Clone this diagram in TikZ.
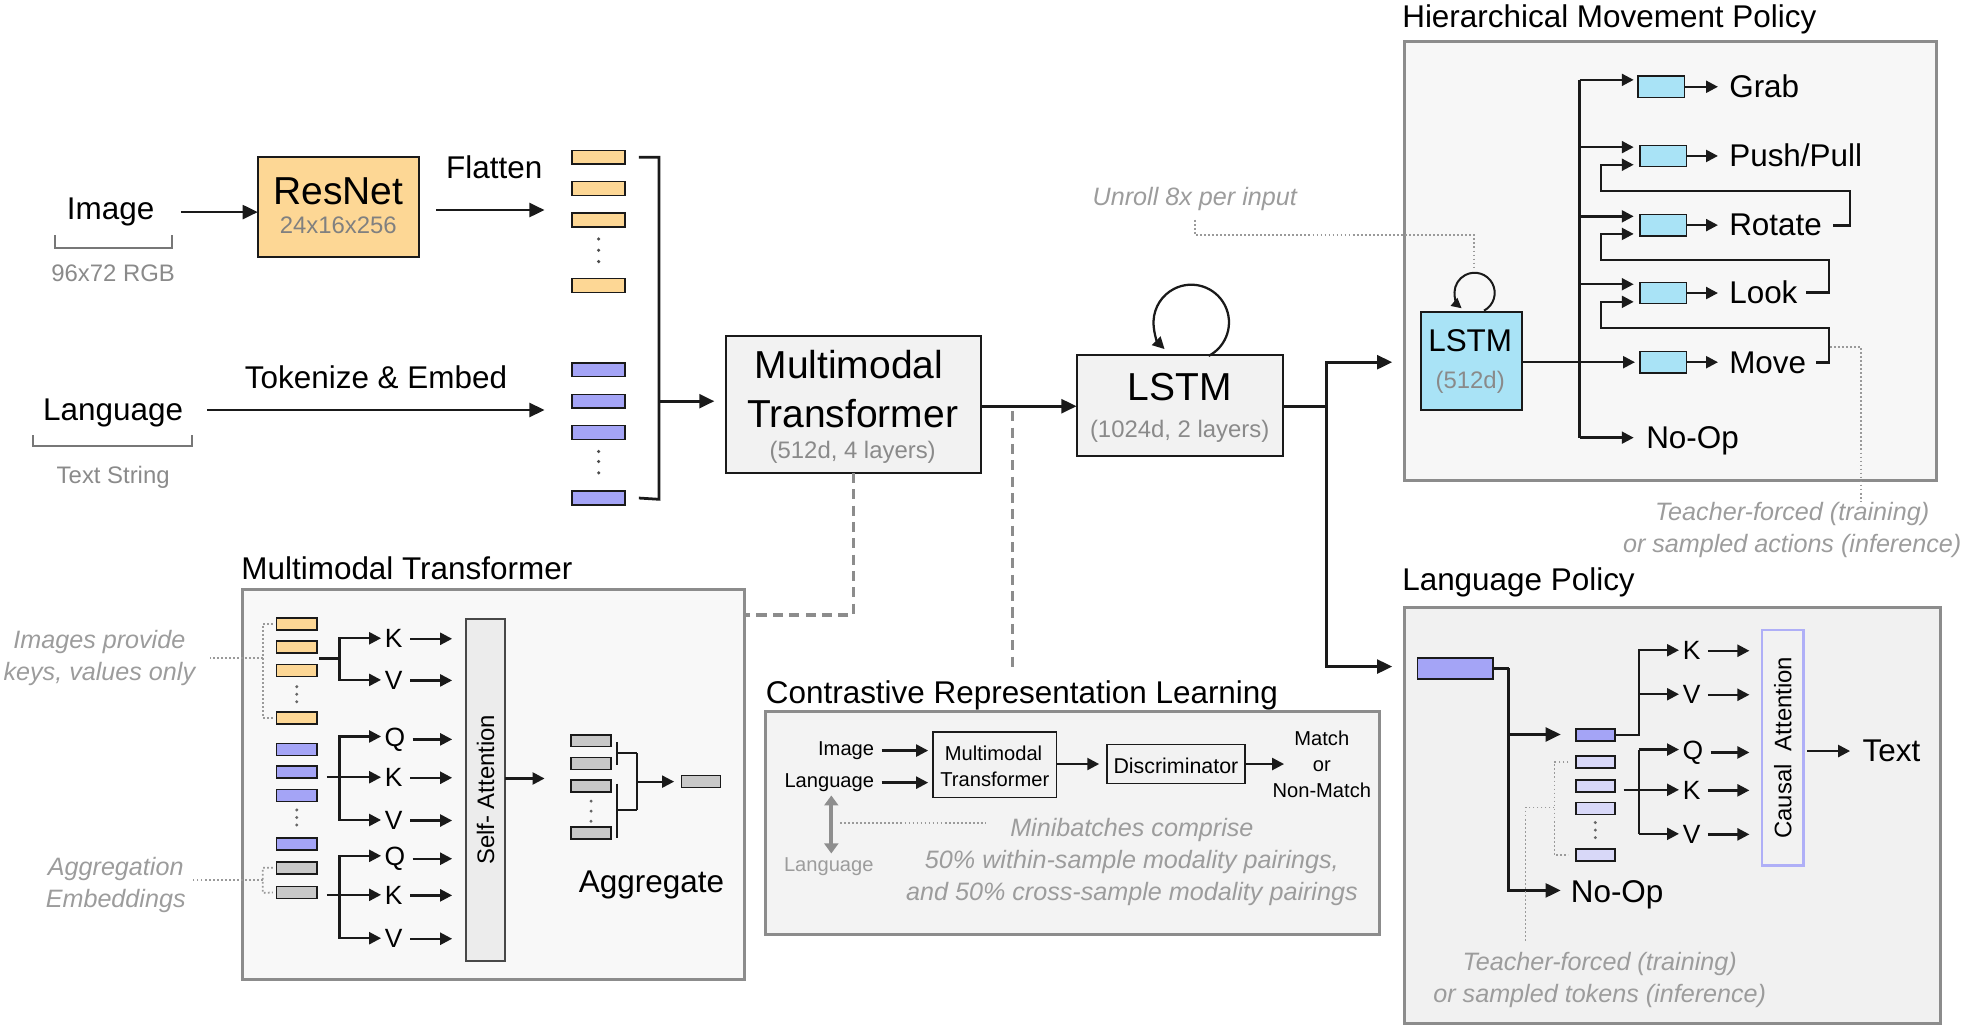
\documentclass[tikz,border=0pt]{standalone}
\usepackage{fontspec}
\setmainfont{Liberation Sans}
\usetikzlibrary{arrows.meta}
\definecolor{orangeF}{HTML}{FDD795}
\definecolor{purpleF}{HTML}{A4A4F6}
\definecolor{lpurpleF}{HTML}{D8D8F8}
\definecolor{cyanF}{HTML}{A9E3F6}
\definecolor{greyF}{HTML}{C8C8C8}
\definecolor{boxF}{HTML}{F2F2F2}
\definecolor{hmpF}{HTML}{F7F7F7}
\definecolor{mmdF}{HTML}{F8F8F8}
\definecolor{crlF}{HTML}{F3F3F3}
\definecolor{lpF}{HTML}{F1F1F1}
\definecolor{panelD}{HTML}{8C8C8C}
\definecolor{subT}{HTML}{8A8A8A}
\definecolor{noteT}{HTML}{9C9C9C}
\definecolor{sattF}{HTML}{ECECEC}
\definecolor{causalD}{HTML}{AFAFF7}
\definecolor{lineD}{HTML}{1A1A1A}
\definecolor{dotC}{HTML}{9A9A9A}
\definecolor{dashC}{HTML}{8C8C8C}
\definecolor{brkC}{HTML}{777777}
\definecolor{dblC}{HTML}{8E8E8E}
\begin{document}
\begin{tikzpicture}[x=1pt,y=-1pt,
  every node/.style={inner sep=0pt,outer sep=0pt},
  lbl/.style={font=\fontsize{25}{30}\selectfont,yshift=-6pt},
  head/.style={font=\fontsize{31}{36}\selectfont,yshift=-8pt},
  sub/.style={font=\fontsize{19}{23}\selectfont,text=subT,yshift=-5pt},
  note/.style={font=\fontsize{20}{25.5}\selectfont\itshape,text=noteT,align=center,yshift=-2.5pt},
  small/.style={font=\fontsize{16}{20.5}\selectfont,yshift=-4pt},
  qkv/.style={font=\fontsize{21}{25}\selectfont,yshift=-5pt},
  panel/.style={draw=panelD,line width=2.5pt},
  blk/.style={draw=lineD,line width=1.5pt,fill=boxF},
  barbase/.style={draw=lineD,line width=1.2pt},
  obar/.style={barbase,fill=orangeF,minimum width=42pt,minimum height=11pt},
  pbar/.style={barbase,fill=purpleF,minimum width=42pt,minimum height=11pt},
  dbar/.style={barbase,minimum width=32pt,minimum height=9.5pt},
  cbar/.style={barbase,fill=cyanF,minimum width=37pt,minimum height=17pt},
  arr/.style={draw=lineD,line width=2.2pt,-{Triangle[length=12pt,width=11pt]}},
  sarr/.style={draw=lineD,line width=1.9pt,-{Triangle[length=9.5pt,width=9.5pt]}},
  ln/.style={draw=lineD,line width=2.2pt},
  tln/.style={draw=lineD,line width=1.5pt},
  dotline/.style={draw=dotC,line width=1.4pt,dash pattern=on 1.4pt off 1.8pt},
  dashline/.style={draw=dashC,line width=2.5pt,dash pattern=on 8pt off 5pt},
  brk/.style={draw=brkC,line width=1.6pt},
]
\useasboundingbox (0,0) rectangle (1568,816);

% ================= panels =================
\node[panel,fill=hmpF,minimum width=423pt,minimum height=349pt] (hmp) at (1328.5,207.5) {};
\node[lbl,anchor=mid west] (hmpT) at (1115,13) {Hierarchical Movement Policy};
\node[panel,fill=lpF,minimum width=426pt,minimum height=331pt] (lp) at (1330,648.5) {};
\node[lbl,anchor=mid west] (lpT) at (1115,461) {Language Policy};
\node[panel,fill=mmdF,minimum width=399pt,minimum height=310pt] (mmd) at (392.5,624) {};
\node[lbl,anchor=mid west] (mmdT) at (192,452) {Multimodal Transformer};
\node[panel,fill=crlF,minimum width=488pt,minimum height=177pt] (crl) at (853,654.5) {};
\node[lbl,anchor=mid west] (crlT) at (609,551) {Contrastive Representation Learning};

% ================= top-left inputs =================
\node[lbl,anchor=mid] (image) at (88,166) {Image};
\draw[brk] (44,187) -- (44,197) -- (137,197) -- (137,187);
\node[sub,anchor=mid] (imgres) at (90,216) {96x72 RGB};
\node[draw=lineD,line width=1.5pt,fill=orangeF,minimum width=128pt,minimum height=79pt] (resnet) at (269,164.5) {};
\node[head,anchor=mid] (resnetT) at (269,152) {ResNet};
\node[sub,anchor=mid,text=black!50] (resnetS) at (269,178) {24x16x256};
\draw[arr] ([xshift=21pt]image.east) -- (resnet.west |- image.east);
\node[lbl,anchor=mid] (flatten) at (393,133) {Flatten};
\coordinate (flatE) at (433,167);
\draw[arr] ([xshift=14pt]resnet.east |- flatE) -- (flatE);

\node[obar] (ob1) at (476,125) {};
\node[obar] (ob2) at (476,150) {};
\node[obar] (ob3) at (476,175) {};
\node[obar] (ob4) at (476,227) {};
\foreach \yy in {190,199,208} \fill[black!70] (476,\yy) circle (1.4);
\node[pbar] (pb1) at (476,294) {};
\node[pbar] (pb2) at (476,319) {};
\node[pbar] (pb3) at (476,344) {};
\node[pbar] (pb4) at (476,396) {};
\foreach \yy in {359,367,376} \fill[black!70] (476,\yy) circle (1.4);

\node[lbl,anchor=mid] (lang) at (90,326) {Language};
\draw[brk] (26,346) -- (26,355) -- (153,355) -- (153,346);
\node[sub,anchor=mid] (langres) at (90,377) {Text String};
\node[lbl,anchor=mid] (tok) at (299,300) {Tokenize \& Embed};
\coordinate (tokE) at (433,326);
\draw[arr] ([xshift=19pt]lang.east |- tokE) -- (tokE);

% ================= multimodal transformer / LSTM =================
\node[blk,minimum width=203pt,minimum height=109pt] (mm) at (678.5,321.5) {};
\node[head,anchor=mid] (mmT1) at (675,290) {Multimodal};
\node[head,anchor=mid] (mmT2) at (678,329) {Transformer};
\node[sub,anchor=mid] (mmS) at (678,357) {(512d, 4 layers)};

\coordinate (brM) at (524,319);
\draw[ln] ([xshift=11pt]ob1.east) -- (524,125) -- (524,397) -- ([xshift=11pt]pb4.east);
\draw[arr] (brM) -- ([xshift=-9pt]mm.west |- brM);

\node[blk,minimum width=164pt,minimum height=80pt] (lstm) at (938,322.5) {};
\node[head,anchor=mid] (lstmT) at (938,308) {LSTM};
\node[sub,anchor=mid] (lstmS) at (938,340) {(1024d, 2 layers)};
\draw[arr] (mm.east |- 0,323) -- (lstm.west |- 0,323);
\coordinate (lloopS) at (961,283);
\draw[sarr,line width=1.8pt] (lloopS) arc[start angle=62.6,end angle=-225,radius=30];

\coordinate (split) at (1055,323);
\coordinate (hmpIn) at (1107,288);
\coordinate (lpIn) at (1107,530);
\draw[ln] (lstm.east |- split) -- (split);
\draw[arr] (split) |- (hmpIn);
\draw[arr] (split) |- (lpIn);

% dashed links to detail panels
\coordinate (dashC) at (678.5,489);
\draw[dashline] (mm.south) -- (dashC) -- (mmd.east |- dashC);
\coordinate (d2S) at (805,327);
\coordinate (d2E) at (805,532);
\draw[dashline] (d2S) -- (d2E);

% ================= hierarchical movement policy =================
\node[draw=lineD,line width=1.5pt,fill=cyanF,minimum width=80pt,minimum height=78pt] (slstm) at (1170,287) {};
\node[lbl,anchor=mid] (slstmT) at (1169,271) {LSTM};
\node[sub,anchor=mid] (slstmS) at (1169,301) {(512d)};
\coordinate (sloopS) at (1180,247);
\draw[sarr,line width=1.6pt,-{Triangle[length=8pt,width=8pt]}] (sloopS) arc[start angle=62,end angle=-230,radius=16];
\coordinate (sloopTop) at (1172,213);

\node[note,anchor=mid,yshift=-2.5pt] (unroll) at (950,156) {Unroll 8x per input};
\draw[dotline] ([yshift=-7pt]unroll.south) -- ++(0,12) -| (sloopTop);

\node[cbar] (gb) at (1321,69) {};
\node[cbar] (pp) at (1322.5,124) {};
\node[cbar] (rot) at (1322.5,179) {};
\node[cbar] (look) at (1322.5,233) {};
\node[cbar] (mv) at (1322.5,288) {};
\node[lbl,anchor=mid west] (grabT) at (1375,69) {Grab};
\node[lbl,anchor=mid west] (ppT) at (1375,124) {Push/Pull};
\node[lbl,anchor=mid west] (rotT) at (1375,179) {Rotate};
\node[lbl,anchor=mid west] (lookT) at (1375,233) {Look};
\node[lbl,anchor=mid west] (mvT) at (1375,288) {Move};
\node[lbl,anchor=mid west] (noopT) at (1309,348) {No-Op};
\foreach \b/\t in {gb/grabT,pp/ppT,rot/rotT,look/lookT,mv/mvT}
  \draw[sarr] (\b.east) -- ([xshift=-9pt]\t.west |- \b.east);

\coordinate (trk) at (1256,63.5);
\coordinate (trkB) at (1256,348);
\coordinate (gbIn) at (1299,63.5);
\coordinate (ppIn1) at (1299,117);
\coordinate (ppIn2) at (1299,131);
\coordinate (rotIn1) at (1299,172);
\coordinate (rotIn2) at (1299,186);
\coordinate (lookIn1) at (1299,226);
\coordinate (lookIn2) at (1299,240);
\coordinate (noopIn) at (1299,348);
\draw[ln] (trk) -- (trkB);
\draw[sarr] (trk) -- (gbIn);
\draw[sarr] (trk |- ppIn1) -- (ppIn1);
\draw[sarr] (trk |- rotIn1) -- (rotIn1);
\draw[sarr] (trk |- lookIn1) -- (lookIn1);
\draw[sarr] (trkB) -- (noopIn);
\draw[sarr] (slstm.east |- mv.west) -- ([xshift=-4pt]mv.west);

\coordinate (fbA) at (1471,152);
\coordinate (fbB) at (1273,152);
\coordinate (fbC) at (1454.5,206.6);
\coordinate (fbD) at (1273,206.6);
\coordinate (fbE) at (1454.5,261);
\coordinate (fbF) at (1273,261);
\draw[sarr] ([xshift=9pt]rotT.east) -| (fbA) -- (fbB) |- (ppIn2);
\draw[sarr] ([xshift=7pt]lookT.east) -| (fbC) -- (fbD) |- (rotIn2);
\draw[sarr] ([xshift=8pt]mvT.east) -| (fbE) -- (fbF) |- (lookIn2);

\node[note] (tfnote) at (1425,419) {Teacher-forced (training)\\or sampled actions (inference)};
\coordinate (tfA) at (1455,276);
\draw[dotline] (tfA) -| ([xshift=55pt]tfnote.north);

% ================= language policy =================
\node[barbase,fill=purpleF,minimum width=60pt,minimum height=17pt] (lpbar) at (1157,531.5) {};
\coordinate (lpV) at (1199.5,531.5);
\coordinate (tokIn) at (1241,584);
\coordinate (noop2In) at (1241,708);
\draw[ln] (lpbar.east) -- (lpV);
\draw[arr] (lpV) |- (noop2In);
\draw[arr] (lpV |- tokIn) -- (tokIn);
\node[lbl,anchor=mid west] (noop2T) at (1249,709) {No-Op};

\node[dbar,fill=purpleF,minimum width=31pt] (tb0) at (1268.5,584.5) {};
\node[dbar,fill=lpurpleF,minimum width=31pt] (tb1) at (1268.5,606) {};
\node[dbar,fill=lpurpleF,minimum width=31pt] (tb2) at (1268.5,625) {};
\node[dbar,fill=lpurpleF,minimum width=31pt] (tb3) at (1268.5,643) {};
\node[dbar,fill=lpurpleF,minimum width=31pt] (tb4) at (1268.5,680) {};
\foreach \yy in {654,660,666} \fill[black!60] (1268.5,\yy) circle (1.3);

\node[draw=causalD,line width=2pt,fill=boxF,minimum width=33pt,minimum height=187pt] (causal) at (1417.5,594.5) {};
\node[font=\fontsize{19}{22}\selectfont,rotate=90] (causalT) at (causal.center) {Causal\ \ Attention};

\coordinate (lpT1) at (1303,517);
\coordinate (lpKin) at (1335,517);
\coordinate (lpVin) at (1335,552);
\draw[sarr] (tb0.east) -- (lpT1 |- tb0.east) |- (lpKin);
\draw[sarr] (lpT1 |- lpVin) -- (lpVin);
\coordinate (lpT2) at (1303,596);
\coordinate (lpT2b) at (1303,663);
\coordinate (lpQ2in) at (1335,596);
\coordinate (lpK2in) at (1335,628);
\coordinate (lpV2in) at (1335,663);
\draw[ln,line width=1.9pt] (lpT2) -- (lpT2b);
\draw[sarr] (lpT2) -- (lpQ2in);
\draw[sarr] ([xshift=7pt]tb2.east |- lpK2in) -- (lpK2in);
\draw[sarr] (lpT2b) -- (lpV2in);

\node[qkv,anchor=mid] (lK1) at (1345,517) {K};
\node[qkv,anchor=mid] (lV1) at (1345,552) {V};
\node[qkv,anchor=mid] (lQ2) at (1346,596) {Q};
\node[qkv,anchor=mid] (lK2) at (1345,628) {K};
\node[qkv,anchor=mid] (lV2) at (1345,663) {V};
\foreach \n in {lK1,lV1,lQ2,lK2,lV2}
  \draw[sarr] ([xshift=6pt]\n.east) -- ([xshift=-10pt]causal.west |- \n.east);

\node[lbl,anchor=mid] (lptext) at (1504,597) {Text};
\draw[sarr] ([xshift=3pt]causal.east |- lptext.west) -- ([xshift=-10pt]lptext.west);

\node[note] (lpnote) at (1272,776.5) {Teacher-forced (training)\\or sampled tokens (inference)};
\coordinate (lpbrT) at (1236,606);
\coordinate (lpbrB) at (1236,680);
\coordinate (lpbrM) at (1236,642);
\draw[dotline] ([xshift=-6pt]tb1.west) -- (lpbrT) -- (lpbrB) -- ([xshift=-6pt]tb4.west);
\draw[dotline] (lpbrM) -| ([xshift=-59pt,yshift=8pt]lpnote.north);

% ================= multimodal transformer detail =================
\node[dbar,fill=orangeF] (mo1) at (236,496) {};
\node[dbar,fill=orangeF] (mo2) at (236,514.6) {};
\node[dbar,fill=orangeF] (mo3) at (236,533) {};
\node[dbar,fill=orangeF] (mo4) at (236,571) {};
\foreach \yy in {546,552,558} \fill[black!60] (236,\yy) circle (1.3);
\node[dbar,fill=purpleF] (mp1) at (236,596) {};
\node[dbar,fill=purpleF] (mp2) at (236,614) {};
\node[dbar,fill=purpleF] (mp3) at (236,632.5) {};
\node[dbar,fill=purpleF] (mp4) at (236,671) {};
\foreach \yy in {644,650,656} \fill[black!60] (236,\yy) circle (1.3);
\node[dbar,fill=greyF] (mg1) at (236,690) {};
\node[dbar,fill=greyF] (mg2) at (236,709.6) {};

\node[draw=lineD!80,line width=1.5pt,fill=sattF,minimum width=31pt,minimum height=272pt] (satt) at (386,628) {};
\node[font=\fontsize{19}{22}\selectfont,rotate=90] (sattT) at (satt.center) {Self- Attention};

\coordinate (mT1) at (270,523.5);
\coordinate (mK1in) at (303,507.5);
\coordinate (mV1in) at (303,540.6);
\draw[ln,line width=1.9pt] ([xshift=2pt]mo2.east |- mT1) -- (mT1);
\draw[sarr] (mT1) |- (mK1in);
\draw[sarr] (mT1) |- (mV1in);
\coordinate (mT2) at (270,618);
\coordinate (mQ2in) at (303,585.6);
\coordinate (mK2in) at (303,618);
\coordinate (mV2in) at (303,652);
\draw[sarr] ([xshift=8pt]mp2.east |- mT2) -- (mK2in);
\draw[sarr] (mT2) |- (mQ2in);
\draw[sarr] (mT2) |- (mV2in);
\coordinate (mT3) at (270,711.5);
\coordinate (mQ3in) at (303,680.5);
\coordinate (mK3in) at (303,711.5);
\coordinate (mV3in) at (303,746);
\draw[sarr] ([xshift=8pt]mg2.east |- mT3) -- (mK3in);
\draw[sarr] (mT3) |- (mQ3in);
\draw[sarr] (mT3) |- (mV3in);

\node[qkv,anchor=mid] (qK1) at (313,507.5) {K};
\node[qkv,anchor=mid] (qV1) at (313,540.6) {V};
\node[qkv,anchor=mid] (qQ2) at (314,585.6) {Q};
\node[qkv,anchor=mid] (qK2) at (313,618) {K};
\node[qkv,anchor=mid] (qV2) at (313,652) {V};
\node[qkv,anchor=mid] (qQ3) at (314,680.5) {Q};
\node[qkv,anchor=mid] (qK3) at (313,711.5) {K};
\node[qkv,anchor=mid] (qV3) at (313,746) {V};
\foreach \n in {qK1,qV1,qQ2,qK2,qV2,qQ3,qK3,qV3}
  \draw[sarr] ([xshift=6pt]\n.east) -- ([xshift=-11pt]satt.west |- \n.east);

\coordinate (saOut) at (433,619);
\draw[sarr] (satt.east |- saOut) -- (saOut);

\node[dbar,fill=greyF] (ag1) at (470,589) {};
\node[dbar,fill=greyF] (ag2) at (470,607) {};
\node[dbar,fill=greyF] (ag3) at (470,625) {};
\node[dbar,fill=greyF] (ag4) at (470,662.5) {};
\foreach \yy in {637,645,653} \fill[black!60] (470,\yy) circle (1.3);
\node[dbar,fill=greyF,minimum width=31pt] (agout) at (557.5,621.5) {};
\draw[tln] (490.3,590) -- (490.3,608);
\draw[tln] (490.3,599) -- (506.2,599);
\draw[tln] (490.3,623) -- (490.3,666);
\draw[tln] (490.3,644) -- (506.2,644);
\draw[tln] (506.2,599) -- (506.2,644);
\coordinate (aggJ) at (506.2,621.5);
\draw[sarr,line width=1.6pt] (aggJ) -- ([xshift=-6pt]agout.west);
\node[lbl,anchor=mid] (aggT) at (518,701) {Aggregate};

\node[note] (imgnote) at (79,520.5) {Images provide\\keys, values only};
\coordinate (imgbr) at (209,523);
\draw[dotline] ([xshift=-3pt]mo1.west) -- (209,496) -- (209,571) -- ([xshift=-3pt]mo4.west);
\draw[dotline] (imgbr) -- ([xshift=12pt]imgnote.east |- imgbr);
\node[note] (aggnote) at (92,701.5) {Aggregation\\Embeddings};
\coordinate (aggbr) at (209,700);
\draw[dotline] ([xshift=-3pt]mg1.west) -- (209,690) -- (209,710) -- ([xshift=-3pt]mg2.west);
\draw[dotline] (aggbr) -- ([xshift=6pt]aggnote.east |- aggbr);

% ================= contrastive representation learning =================
\node[small,anchor=mid east] (cimg) at (695,594) {Image};
\node[small,anchor=mid east] (clang) at (695,619.5) {Language};
\node[blk,line width=1.3pt,minimum width=98pt,minimum height=52pt] (cmm) at (791,608) {};
\node[small,anchor=mid] (cmmT1) at (790,598) {Multimodal};
\node[small,anchor=mid] (cmmT2) at (791,619) {Transformer};
\draw[sarr] ([xshift=6pt]cimg.east) -- ([xshift=-4pt]cmm.west |- cimg.east);
\draw[sarr] ([xshift=6pt]clang.east) -- ([xshift=-4pt]cmm.west |- clang.east);
\node[blk,line width=1.3pt,minimum width=110pt,minimum height=31pt] (disc) at (935,607.5) {};
\node[small,font=\fontsize{17}{20}\selectfont,anchor=mid] (discT) at (935,608) {Discriminator};
\draw[sarr] (cmm.east |- disc.west) -- ([xshift=-6pt]disc.west);
\node[small,align=center,yshift=3pt] (match) at (1051,606.5) {Match\\or\\Non-Match};
\draw[sarr] (disc.east) -- ([xshift=-30pt]match.center |- disc.east);
\node[small,anchor=mid,text=noteT] (clang2) at (659,686) {Language};
\draw[draw=dblC,line width=3pt,{Triangle[length=8pt,width=11pt]}-{Triangle[length=8pt,width=11pt]}] ([xshift=2pt,yshift=-3pt]clang.south -| clang2.north) -- ([xshift=2pt,yshift=3pt]clang2.north);
\node[note] (crnote) at (900,683) {Minibatches comprise\\50\% within-sample modality pairings,\\and 50\% cross-sample modality pairings};
\coordinate (cdotA) at (668,654.5);
\coordinate (cdotB) at (784,654.5);
\draw[dotline] (cdotA) -- (cdotB);

\end{tikzpicture}
\end{document}
